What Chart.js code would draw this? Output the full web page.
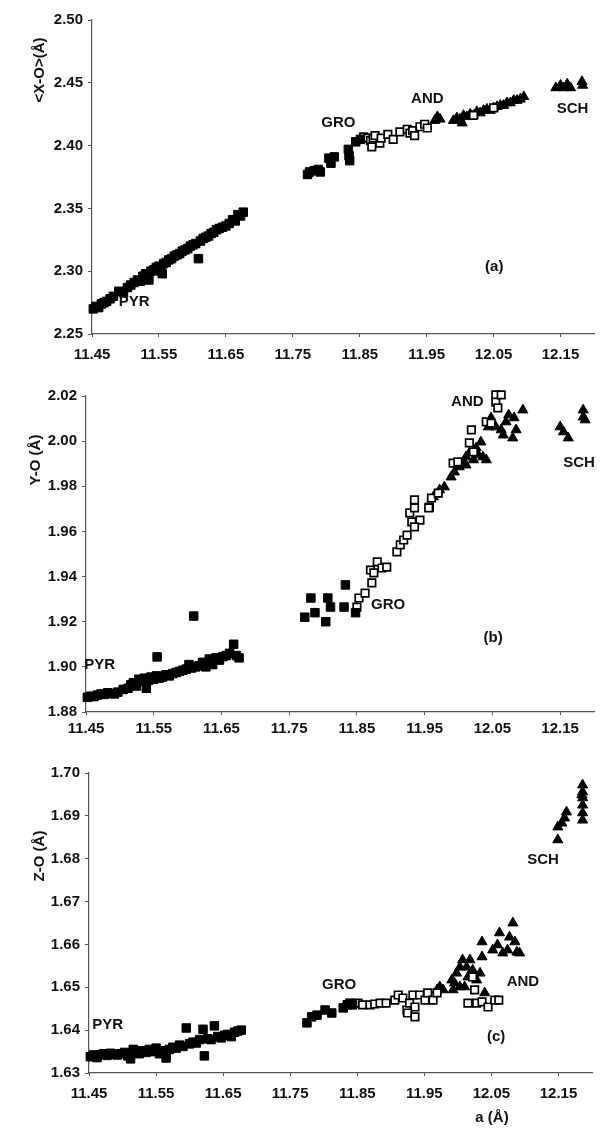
<!DOCTYPE html>
<html>
<head>
<meta charset="utf-8">
<script src="https://cdn.jsdelivr.net/npm/chart.js@4.4.0/dist/chart.umd.min.js"></script>
<style>
body { margin: 0; background: #fff; }
#wrap { position: relative; width: 601px; height: 1129px; }
canvas { position: absolute; left: 0; }
</style>
</head>
<body>
<div id="wrap">
  <canvas id="cA" width="601" height="378" style="top:0px"></canvas>
  <canvas id="cB" width="601" height="378" style="top:378px"></canvas>
  <canvas id="cC" width="601" height="373" style="top:756px"></canvas>
</div>
<script>
// shared x axis: cell edge a (A)
var xTicks = [11.45, 11.55, 11.65, 11.75, 11.85, 11.95, 12.05, 12.15];

// ---- panel (a) <X-O> ----
var yTicksA = [2.25, 2.30, 2.35, 2.40, 2.45, 2.50];
var fillA = [
  [11.452,2.270],[11.456,2.272],[11.460,2.271],[11.464,2.274],[11.468,2.275],[11.472,2.276],[11.477,2.278],
  [11.482,2.280],[11.490,2.284],[11.497,2.283],[11.503,2.287],[11.508,2.289],[11.513,2.291],[11.518,2.293],
  [11.522,2.292],[11.526,2.296],[11.530,2.298],[11.534,2.295],[11.535,2.293],[11.538,2.300],[11.542,2.301],
  [11.546,2.303],[11.550,2.304],[11.553,2.300],[11.555,2.298],[11.557,2.306],[11.561,2.307],[11.565,2.309],
  [11.569,2.310],[11.573,2.312],[11.577,2.313],[11.581,2.314],[11.585,2.316],[11.589,2.317],[11.593,2.318],
  [11.597,2.320],[11.601,2.321],[11.605,2.322],[11.609,2.310],[11.612,2.324],[11.616,2.326],[11.620,2.327],
  [11.624,2.328],[11.628,2.330],[11.632,2.331],[11.636,2.333],[11.640,2.334],[11.645,2.335],[11.650,2.336],
  [11.655,2.338],[11.660,2.341],[11.664,2.340],[11.668,2.345],[11.672,2.344],[11.676,2.347],
  [11.772,2.377],[11.775,2.379],[11.782,2.380],[11.788,2.381],[11.791,2.379],[11.804,2.390],[11.807,2.386],
  [11.812,2.391],[11.833,2.397],[11.834,2.392],[11.835,2.388],[11.844,2.403],[11.851,2.405]
];
var openA = [
  [11.856,2.407],[11.862,2.406],[11.866,2.404],[11.868,2.399],[11.870,2.406],[11.873,2.408],[11.880,2.402],
  [11.882,2.406],[11.892,2.409],[11.900,2.405],[11.910,2.411],[11.921,2.413],[11.925,2.410],[11.929,2.412],
  [11.932,2.408],[11.940,2.415],[11.947,2.417],[11.951,2.414],[12.020,2.424],[12.050,2.430]
];
var triA = [
  [11.962,2.420],[11.966,2.423],[11.970,2.421],[11.990,2.420],[11.995,2.422],[12.000,2.421],[12.003,2.418],
  [12.005,2.424],[12.010,2.423],[12.015,2.425],[12.020,2.424],[12.025,2.427],[12.030,2.426],[12.035,2.428],
  [12.040,2.429],[12.045,2.428],[12.050,2.430],[12.055,2.431],[12.060,2.432],[12.065,2.432],[12.070,2.434],
  [12.075,2.434],[12.080,2.436],[12.085,2.436],[12.090,2.437],[12.095,2.439],
  [12.143,2.446],[12.150,2.448],[12.155,2.446],[12.160,2.449],[12.165,2.446],[12.182,2.451],[12.183,2.448]
];

// ---- panel (b) Y-O ----
var yTicksB = [1.88, 1.90, 1.92, 1.94, 1.96, 1.98, 2.00, 2.02];
var fillB = [
  [11.452,1.8865],[11.457,1.8870],[11.462,1.8868],[11.467,1.8875],[11.472,1.8880],[11.477,1.8878],[11.482,1.8885],
  [11.487,1.8882],[11.492,1.8880],[11.497,1.8888],[11.505,1.8900],[11.512,1.8905],[11.516,1.8920],[11.520,1.8930],
  [11.524,1.8915],[11.528,1.8945],[11.532,1.8935],[11.536,1.8950],[11.539,1.8905],[11.542,1.8940],[11.546,1.8955],
  [11.550,1.8945],[11.555,1.9044],[11.554,1.8960],[11.558,1.8950],[11.563,1.8955],[11.568,1.8965],[11.573,1.8960],
  [11.578,1.8970],[11.583,1.8975],[11.588,1.8980],[11.593,1.8985],[11.598,1.8990],[11.602,1.9010],[11.606,1.8995],
  [11.609,1.9225],[11.612,1.9000],[11.617,1.9005],[11.622,1.9020],[11.627,1.9000],[11.632,1.9035],[11.637,1.9010],
  [11.642,1.9040],[11.647,1.9030],[11.652,1.9045],[11.657,1.9050],[11.662,1.9060],[11.668,1.9100],[11.672,1.9050],
  [11.676,1.9040],
  [11.773,1.9220],[11.782,1.9305],[11.788,1.9240],[11.804,1.9200],[11.807,1.9305],[11.811,1.9265],[11.831,1.9265],
  [11.833,1.9363],[11.848,1.9240]
];
var openB = [
  [11.850,1.9265],[11.853,1.9305],[11.862,1.9327],[11.872,1.9372],[11.870,1.9429],[11.880,1.9465],[11.887,1.9438],
  [11.894,1.9442],[11.875,1.9416],[11.909,1.9509],[11.914,1.9540],[11.919,1.9562],[11.924,1.9584],[11.931,1.9642],
  [11.928,1.9682],[11.935,1.9704],[11.935,1.9740],[11.943,1.9650],[11.935,1.9620],[11.957,1.9708],[11.960,1.9748],
  [11.970,1.9770],[11.956,1.9704],[11.992,1.9903],[11.999,1.9908],[12.016,1.9992],[12.019,2.0050],[12.022,1.9952],
  [12.041,2.0085],[12.055,2.0205],[12.055,2.0173],[12.063,2.0205],[12.058,2.0147],[12.048,2.0080]
];
var triB = [
  [11.963,1.9753],[11.972,1.9784],[11.979,1.9797],[11.989,1.9841],[11.994,1.9863],[12.001,1.9886],[12.007,1.9908],
  [12.011,1.9930],[12.016,1.9948],[12.022,1.9917],[12.029,1.9939],[12.036,1.9930],[12.033,1.9996],[12.041,1.9917],
  [12.026,1.9970],[12.011,1.9894],[12.048,2.0103],[12.055,2.0063],[12.063,2.0050],[12.070,2.0085],[12.074,2.0116],
  [12.082,2.0103],[12.085,2.0050],[12.080,2.0014],[12.066,2.0027],[12.095,2.0138],[12.044,2.0063],
  [12.150,2.0063],[12.155,2.0041],[12.162,2.0014],[12.184,2.0138],[12.184,2.0107],[12.187,2.0094]
];

// ---- panel (c) Z-O ----
var yTicksC = [1.63, 1.64, 1.65, 1.66, 1.67, 1.68, 1.69, 1.70];
var fillC = [
  [11.452,1.6338],[11.457,1.6342],[11.462,1.6336],[11.467,1.6343],[11.472,1.6345],[11.477,1.6341],[11.482,1.6346],
  [11.487,1.6344],[11.492,1.6342],[11.497,1.6345],[11.503,1.6348],[11.508,1.6340],[11.512,1.6333],[11.516,1.6355],
  [11.520,1.6350],[11.525,1.6345],[11.530,1.6352],[11.535,1.6348],[11.540,1.6355],[11.545,1.6350],[11.550,1.6358],
  [11.555,1.6345],[11.560,1.6352],[11.565,1.6335],[11.570,1.6355],[11.575,1.6360],[11.580,1.6358],[11.585,1.6365],
  [11.590,1.6362],[11.595,1.6405],[11.600,1.6368],[11.605,1.6372],[11.610,1.6370],[11.615,1.6378],[11.620,1.6402],
  [11.622,1.6340],[11.627,1.6380],[11.632,1.6378],[11.637,1.6410],[11.642,1.6385],[11.647,1.6382],[11.652,1.6388],
  [11.657,1.6390],[11.662,1.6385],[11.667,1.6395],[11.672,1.6398],[11.677,1.6400],
  [11.775,1.6417],[11.782,1.6431],[11.790,1.6435],[11.802,1.6447],[11.812,1.6440],[11.829,1.6452],[11.835,1.6459],
  [11.839,1.6463],[11.843,1.6459]
];
var openC = [
  [11.851,1.6463],[11.858,1.6459],[11.869,1.6459],[11.876,1.6461],[11.884,1.6463],[11.893,1.6463],[11.906,1.6470],
  [11.911,1.6482],[11.918,1.6475],[11.924,1.6447],[11.928,1.6463],[11.933,1.6482],[11.936,1.6454],[11.925,1.6440],
  [11.936,1.6431],[11.943,1.6482],[11.951,1.6470],[11.955,1.6487],[11.963,1.6470],[11.969,1.6487],
  [12.015,1.6463],[12.028,1.6463],[12.036,1.6466],[12.045,1.6454],[12.055,1.6470],[12.061,1.6470],
  [12.022,1.6524],[12.025,1.6494]
];
var triC = [
  [11.969,1.6494],[11.973,1.6501],[11.978,1.6494],[11.991,1.6517],[11.993,1.6494],[11.998,1.6533],[12.003,1.6547],
  [12.007,1.6564],[12.013,1.6547],[12.015,1.6524],[12.018,1.6564],[12.022,1.6540],[12.028,1.6517],[12.033,1.6533],
  [12.036,1.6606],[12.036,1.6571],[12.003,1.6501],[11.995,1.6510],[12.010,1.6501],[12.040,1.6487],[12.052,1.6587],
  [12.059,1.6599],[12.062,1.6627],[12.067,1.6580],[12.074,1.6587],[12.082,1.6650],[12.085,1.6606],[12.088,1.6582],
  [12.092,1.6580],[12.077,1.6617],
  [12.149,1.6844],[12.149,1.6874],[12.155,1.6883],[12.159,1.6895],[12.162,1.6909],[12.186,1.6972],[12.186,1.6956],
  [12.186,1.6942],[12.186,1.6925],[12.186,1.6907],[12.186,1.6890],[12.185,1.6949]
];

// group labels per panel: text, x, y (data units)
var notesA = [["PYR",11.513,2.2755],["GRO",11.818,2.418],["AND",11.951,2.437],["SCH",12.168,2.429],["(a)",12.051,2.3035]];
var notesB = [["PYR",11.470,1.9008],["GRO",11.896,1.9274],["AND",12.013,2.0173],["SCH",12.178,1.9903],["(b)",12.051,1.9128]];
var notesC = [["PYR",11.478,1.6412],["GRO",11.823,1.6505],["AND",12.097,1.6512],["SCH",12.127,1.6797],["(c)",12.057,1.6384]];

var FONT = '"Liberation Sans", Arial, sans-serif';
var INK = '#111';

Chart.defaults.font.family = FONT;
Chart.defaults.font.size = 15;
Chart.defaults.font.weight = 'bold';
Chart.defaults.color = INK;

function toPts(arr) {
    return arr.map(function (p) { return { x: p[0], y: p[1] }; });
}

function notesPlugin(notes, yTitle, xTitle) {
    return {
        id: 'notes',
        afterDatasetsDraw: function (chart) {
            var ctx = chart.ctx, sx = chart.scales.x, sy = chart.scales.y;
            ctx.save();
            ctx.font = 'bold 15px ' + FONT;
            ctx.fillStyle = INK;
            ctx.textAlign = 'center';
            ctx.textBaseline = 'middle';
            notes.forEach(function (n) {
                ctx.fillText(n[0], sx.getPixelForValue(n[1]), sy.getPixelForValue(n[2]));
            });
            if (xTitle) ctx.fillText(xTitle[0], xTitle[1], xTitle[2]);
            ctx.translate(yTitle[1], yTitle[2]);
            ctx.rotate(-Math.PI / 2);
            ctx.fillText(yTitle[0], 0, 0);
            ctx.restore();
        }
    };
}

function makePanel(id, fill, open, tri, yTicks, notes, lay) {
    var ctx = document.getElementById(id).getContext('2d');
    return new Chart(ctx, {
        type: 'scatter',
        data: {
            datasets: [
                { label: 'filled', data: toPts(fill), pointStyle: 'rect', radius: 6, backgroundColor: '#000', borderColor: '#000', borderWidth: 1, clip: false },
                { label: 'open', data: toPts(open), pointStyle: 'rect', radius: 5.3, backgroundColor: '#fff', borderColor: '#000', borderWidth: 1.7, clip: false },
                { label: 'tri', data: toPts(tri), pointStyle: 'triangle', radius: 5.8, backgroundColor: '#000', borderColor: '#000', borderWidth: 1, clip: false }
            ]
        },
        options: {
            responsive: false,
            animation: false,
            layout: { padding: { top: lay.top, right: lay.right, left: 0, bottom: 0 } },
            plugins: { legend: { display: false }, tooltip: { enabled: false } },
            scales: {
                x: {
                    type: 'linear', min: 11.45, max: 12.20,
                    afterBuildTicks: function (s) { s.ticks = xTicks.map(function (v) { return { value: v }; }); },
                    afterFit: function (s) { s.height = lay.xAxisH; },
                    ticks: { padding: lay.xPad, maxRotation: 0, callback: function (v) { return v.toFixed(2); } },
                    grid: { drawOnChartArea: false, tickLength: 3, color: '#555' },
                    border: { color: '#555', width: 1.2 }
                },
                y: {
                    type: 'linear', min: yTicks[0], max: yTicks[yTicks.length - 1],
                    afterBuildTicks: function (s) { s.ticks = yTicks.map(function (v) { return { value: v }; }); },
                    afterFit: function (s) { s.width = lay.yAxisW; },
                    ticks: { padding: 5, callback: function (v) { return v.toFixed(2); } },
                    grid: { drawOnChartArea: false, tickLength: 4, color: '#555' },
                    border: { color: '#555', width: 1.2 }
                }
            }
        },
        plugins: [notesPlugin(notes, lay.yTitle, lay.xTitle)]
    });
}

makePanel('cA', fillA, openA, triA, yTicksA, notesA,
    { top: 20, right: 0, xAxisH: 44, xPad: 9, yAxisW: 92, yTitle: ['<X-O>(Å)', 40, 70] });
makePanel('cB', fillB, openB, triB, yTicksB, notesB,
    { top: 18, right: 2, xAxisH: 44, xPad: 5, yAxisW: 86, yTitle: ['Y-O (Å)', 36, 82] });
makePanel('cC', fillC, openC, triC, yTicksC, notesC,
    { top: 17, right: 9, xAxisH: 56, xPad: 9, yAxisW: 89, yTitle: ['Z-O (Å)', 40, 100], xTitle: ['a (Å)', 492, 362] });
</script>
</body>
</html>
